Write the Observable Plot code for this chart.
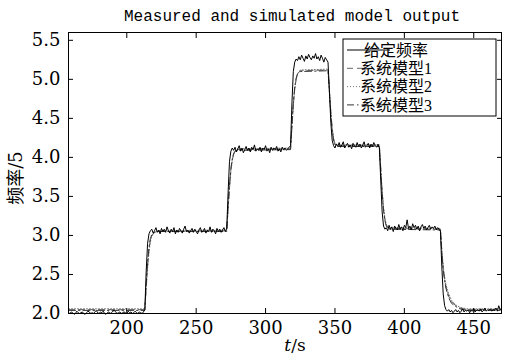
<!DOCTYPE html>
<html><head><meta charset="utf-8">
<script src="https://cdn.jsdelivr.net/npm/d3@7"></script>
<script src="https://cdn.jsdelivr.net/npm/@observablehq/plot@0.6"></script>
<style>html,body{margin:0;padding:0;background:#fff;} svg{display:block}</style>
</head><body><div id="chart"></div>
<script>
const titleText = "Measured and simulated model output";
const xLabelVar = "t";
const xLabelUnit = "/s";
const yLabelText = "频率/5";
const seriesNames = ["给定频率", "系统模型1", "系统模型2", "系统模型3"];
const xTicks = [200, 250, 300, 350, 400, 450];
const yTicks = [2.0, 2.5, 3.0, 3.5, 4.0, 4.5, 5.0, 5.5];

// measured / given frequency, one sample per second starting at t = 158
const measuredStart = 158;
const measured = [
  2.01,2.00,2.02,2.01,1.99,2.00,2.03,2.01,2.00,2.01,
  2.02,2.00,1.99,2.01,2.03,2.02,2.00,2.01,2.00,2.02,
  2.04,2.01,2.00,2.02,2.01,2.03,2.00,1.99,2.01,2.02,
  2.00,2.01,2.03,2.04,2.02,2.00,2.01,2.02,2.00,2.01,
  2.02,2.01,2.00,2.03,2.01,2.02,2.00,2.01,2.03,2.01,
  2.00,2.02,2.01,2.00,2.02,
  2.05,2.55,2.90,3.02,3.06,
  3.08,3.03,3.06,3.10,3.04,3.07,3.02,3.09,3.05,3.08,
  3.04,3.11,3.06,3.03,3.08,3.05,3.10,3.02,3.07,3.04,
  3.09,3.06,3.03,3.08,3.12,3.05,3.07,3.03,3.06,3.09,
  3.04,3.08,3.05,3.02,3.07,3.10,3.04,3.06,3.09,3.03,
  3.07,3.05,3.11,3.04,3.08,3.06,3.02,3.09,3.05,3.08,
  3.04,3.07,3.10,3.05,
  3.08,3.55,3.95,4.08,4.12,
  4.09,4.13,4.07,4.11,4.15,4.08,4.12,4.06,4.10,4.14,
  4.09,4.12,4.07,4.13,4.10,4.16,4.08,4.11,4.09,4.13,
  4.07,4.12,4.10,4.15,4.08,4.11,4.06,4.13,4.09,4.12,
  4.10,4.14,4.08,4.11,4.07,4.13,4.10,4.12,4.09,4.11,
  4.13,
  4.15,4.70,5.10,5.22,5.26,
  5.24,5.29,5.25,5.31,5.27,5.23,5.30,5.26,5.32,5.28,
  5.25,5.30,5.27,5.33,5.26,5.29,5.24,5.31,5.27,5.22,
  5.28,5.25,
  5.22,4.85,4.45,4.22,4.15,
  4.12,4.17,4.14,4.19,4.13,4.16,4.20,4.12,4.15,4.18,
  4.13,4.16,4.11,4.18,4.15,4.13,4.19,4.14,4.17,4.12,
  4.16,4.20,4.13,4.15,4.18,4.12,4.17,4.14,4.19,4.15,
  4.13,4.17,
  4.12,3.70,3.30,3.12,3.08,
  3.10,3.06,3.13,3.08,3.11,3.05,3.12,3.09,3.07,3.14,
  3.08,3.11,3.06,3.13,3.10,3.20,3.09,3.12,3.07,3.15,
  3.10,3.13,3.08,3.12,3.06,3.11,3.14,3.09,3.12,3.07,
  3.10,3.13,3.08,3.11,3.09,3.12,3.07,3.10,3.08,
  3.05,2.60,2.25,2.10,2.05,
  2.03,2.05,2.02,2.04,2.01,2.03,2.05,2.02,2.04,2.01,
  2.03,2.06,2.02,2.04,2.03,2.05,2.01,2.04,2.03,2.06,
  2.02,2.04,2.05,2.03,2.06,2.02,2.04,2.07,2.03,2.05,
  2.04,2.06,2.03,2.05,2.04,2.07,2.03,2.10,2.05,2.04
];

// simulated models
const modelTime = [158,213,214,215,216,217,218,220,222,272,273,274,275,276,277,278,280,318,319,320,321,322,323,325,345,346,347,348,349,350,352,382,383,384,385,386,387,389,426,427,428,429,430,432,434,437,440,445,450,470];
const model1 = [2.05,2.05,2.35,2.62,2.82,2.94,3.00,3.04,3.05,3.06,3.35,3.62,3.84,3.97,4.04,4.08,4.10,4.11,4.40,4.68,4.88,5.00,5.07,5.11,5.12,4.85,4.58,4.36,4.23,4.17,4.15,4.15,3.85,3.56,3.34,3.20,3.13,3.09,3.08,2.80,2.58,2.44,2.34,2.22,2.15,2.10,2.07,2.05,2.05,2.05];
const model2 = [2.06,2.06,2.32,2.58,2.79,2.92,2.99,3.04,3.06,3.07,3.33,3.60,3.82,3.96,4.04,4.08,4.11,4.12,4.38,4.66,4.87,5.00,5.07,5.12,5.13,4.87,4.60,4.38,4.25,4.18,4.16,4.16,3.87,3.58,3.36,3.22,3.14,3.10,3.09,2.82,2.61,2.47,2.37,2.25,2.17,2.11,2.08,2.06,2.06,2.06];
const model3 = [2.04,2.04,2.38,2.65,2.85,2.96,3.01,3.04,3.05,3.05,3.37,3.64,3.86,3.98,4.05,4.08,4.09,4.10,4.42,4.70,4.90,5.01,5.07,5.10,5.11,4.83,4.56,4.35,4.22,4.16,4.14,4.14,3.83,3.54,3.32,3.19,3.12,3.08,3.07,2.78,2.56,2.42,2.32,2.20,2.13,2.09,2.06,2.04,2.04,2.04];

const styles = [
  {stroke: "#000", dash: null},
  {stroke: "#666", dash: "6,4"},
  {stroke: "#777", dash: "1,2"},
  {stroke: "#333", dash: "7,3,1.5,3"}
];

const measData = measured.map((v, i) => ({t: measuredStart + i, v}));
const modelSets = [model1, model2, model3].map(arr => modelTime.map((t, i) => ({t, v: arr[i]})));

const W = 505, H = 357;
const chart = Plot.plot({
  width: W, height: H,
  marginLeft: 68, marginRight: 4, marginTop: 32, marginBottom: 44,
  x: {domain: [158, 470]},
  y: {domain: [2.0, 5.6]},
  style: {fontFamily: "DejaVu Serif", fontSize: "18px", color: "#000", background: "#fff"},
  marks: [
    ...modelSets.map((d, k) => Plot.line(d, {x: "t", y: "v", stroke: styles[k + 1].stroke, strokeWidth: 1, strokeDasharray: styles[k + 1].dash})),
    Plot.line(measData, {x: "t", y: "v", stroke: "#000", strokeWidth: 1}),
    Plot.frame({stroke: "#000", strokeWidth: 1}),
    Plot.axisX({anchor: "bottom", ticks: xTicks, tickSize: -5, tickPadding: 13, tickFormat: "d", label: null}),
    Plot.axisX({anchor: "top", ticks: xTicks, tickSize: -5, tickFormat: () => "", label: null}),
    Plot.axisY({anchor: "left", ticks: yTicks, tickSize: -5, tickPadding: 13, tickFormat: ".1f", label: null}),
    Plot.axisY({anchor: "right", ticks: yTicks, tickSize: -5, tickFormat: () => "", label: null})
  ]
});
document.getElementById("chart").appendChild(chart);

const svg = d3.select(chart);
// title
svg.append("text").attr("x", 292).attr("y", 21).attr("text-anchor", "middle")
  .style("font-family", "Liberation Mono, DejaVu Sans Mono, monospace").style("font-size", "16px")
  .attr("fill", "#000").text(titleText);
// x label
const xl = svg.append("text").attr("x", 295).attr("y", 351).attr("text-anchor", "middle")
  .style("font-family", "DejaVu Serif").style("font-size", "17px").attr("fill", "#000");
xl.append("tspan").style("font-style", "italic").text(xLabelVar);
xl.append("tspan").text(xLabelUnit);
// y label
svg.append("text").attr("transform", "translate(22,178) rotate(-90)").attr("text-anchor", "middle")
  .style("font-family", "DejaVu Serif, Noto Sans CJK SC").style("font-size", "18px").attr("fill", "#000")
  .text(yLabelText);
// legend
const lg = svg.append("g");
lg.append("rect").attr("x", 343).attr("y", 39).attr("width", 153).attr("height", 77)
  .attr("fill", "#fff").attr("stroke", "#000").attr("stroke-width", 1);
seriesNames.forEach((name, i) => {
  const cy = 50 + i * 18.3;
  lg.append("line").attr("x1", 347).attr("x2", 390).attr("y1", cy).attr("y2", cy)
    .attr("stroke", styles[i].stroke).attr("stroke-width", 1)
    .attr("stroke-dasharray", styles[i].dash);
  lg.append("text").attr("x", 396).attr("y", cy).attr("dy", "0.35em")
    .style("font-family", "Liberation Serif, Noto Sans CJK SC").style("font-size", "16px")
    .attr("fill", "#000").text(name);
});
</script></body></html>
